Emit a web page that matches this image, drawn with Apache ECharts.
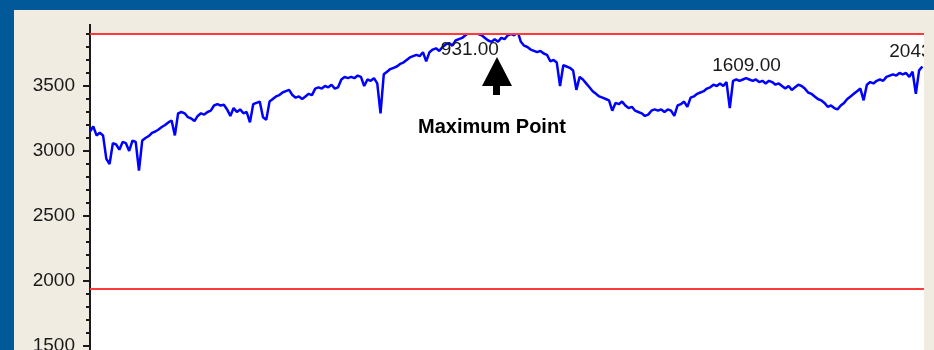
<!DOCTYPE html>
<html>
<head>
<meta charset="utf-8">
<script src="https://cdn.jsdelivr.net/npm/echarts@6/dist/echarts.min.js"></script>
<style>
  html, body { margin: 0; padding: 0; background: #01599a; }
  #chart { width: 934px; height: 350px; }
</style>
</head>
<body>
<div id="chart"></div>
<script>
// Sample index step of the trace (every 8th sample is kept)
const sampleStep = 8;

// Trace values, one per kept sample starting at index 0
const traceValues = [
  3150, 3190, 3120, 3140, 3120, 2940, 2900, 3060, 3050, 3010,
  3070, 3060, 3000, 3080, 3070, 2850, 3080, 3100, 3115, 3140,
  3150, 3165, 3185, 3200, 3220, 3235, 3120, 3290, 3300, 3290,
  3260, 3250, 3230, 3270, 3290, 3280, 3300, 3310, 3350, 3360,
  3350, 3355, 3320, 3270, 3330, 3300, 3320, 3290, 3300, 3220,
  3360, 3370, 3380, 3260, 3240, 3380, 3400, 3420, 3430, 3450,
  3460, 3470, 3430, 3410, 3420, 3400, 3420, 3440, 3430, 3480,
  3490, 3480, 3500, 3490, 3510, 3480, 3490, 3550, 3570, 3560,
  3570, 3560, 3580, 3570, 3500, 3550, 3540, 3560, 3520, 3290,
  3590, 3610, 3630, 3640, 3650, 3670, 3680, 3700, 3720, 3730,
  3740, 3730, 3760, 3690, 3760, 3780, 3790, 3770, 3800, 3820,
  3830, 3810, 3850, 3860, 3870, 3890, 3910, 3930, 3910, 3900,
  3890, 3870, 3850, 3840, 3860, 3840, 3870, 3860, 3890, 3900,
  3890, 3920, 3840, 3810, 3800, 3780, 3770, 3760, 3770, 3750,
  3740, 3690, 3700, 3680, 3500, 3660, 3650, 3640, 3620, 3470,
  3570, 3550, 3520, 3490, 3460, 3440, 3420, 3410, 3400, 3390,
  3310, 3370, 3360, 3380, 3350, 3330, 3340, 3310, 3300, 3290,
  3270, 3280, 3310, 3320, 3310, 3320, 3300, 3320, 3310, 3270,
  3350, 3360, 3380, 3340, 3410, 3420, 3440, 3450, 3460, 3480,
  3490, 3510, 3500, 3520, 3500, 3530, 3330, 3540, 3550, 3540,
  3550, 3560, 3550, 3540, 3550, 3530, 3540, 3520, 3540, 3530,
  3510, 3520, 3500, 3480, 3500, 3470, 3490, 3510, 3500, 3480,
  3450, 3440, 3420, 3400, 3390, 3370, 3340, 3350, 3330, 3320,
  3350, 3370, 3400, 3420, 3440, 3460, 3480, 3390, 3510, 3530,
  3520, 3540, 3550, 3540, 3570, 3580, 3590, 3580, 3600, 3590,
  3600, 3570, 3610, 3440, 3620, 3650
];

// Marked sample indices and their values
const peakIndex = [931, 1609, 2043];
const peakValue = [3930, 3560, 3650];

// Horizontal limit lines
const upperLimit = 3900;
const lowerLimit = 1940;

// Y axis range and tick spacing
const yMin = 1000;
const yMax = 4000;
const yStep = 500;
const xMax = 2044;

const tracePoints = traceValues.map((v, i) => [i * sampleStep, v]);
const peakPoints = peakIndex.map((x, i) => [x, peakValue[i]]);

// label placement per marked point
const peakLabelPlacement = [
  { position: 'bottom', distance: 10 },
  { position: 'top', distance: 3 },
  { position: 'top', distance: 5 }
];

const chart = echarts.init(document.getElementById('chart'));
const beige = '#f1ece1';
const ink = '#1a1a1a';
const labelFont = 'Liberation Sans, Arial, sans-serif';

chart.setOption({
  animation: false,
  backgroundColor: '#01599a',
  textStyle: { fontFamily: labelFont },
  grid: {
    left: 90, right: 10, top: 21, height: 390,
    outerBoundsMode: 'none',
    containLabel: false,
    show: true, backgroundColor: '#ffffff', borderWidth: 0
  },
  xAxis: {
    type: 'value', min: 0, max: xMax, show: false
  },
  yAxis: {
    type: 'value', min: yMin, max: yMax, interval: yStep,
    axisLine: { show: true, lineStyle: { color: ink, width: 2 } },
    axisTick: { show: true, length: 7, lineStyle: { color: ink, width: 2 } },
    minorTick: { show: true, splitNumber: 5, length: 4, lineStyle: { color: ink, width: 2 } },
    splitLine: { show: false },
    axisLabel: {
      show: true, margin: 15, color: ink, fontSize: 19,
      fontFamily: labelFont,
      showMaxLabel: false,
      formatter: (v) => String(v)
    }
  },
  series: [
    {
      type: 'line',
      data: tracePoints,
      showSymbol: false,
      symbol: 'none',
      lineStyle: { color: '#0000ff', width: 2.5 },
      clip: true,
      z: 3,
      markLine: {
        silent: true,
        symbol: ['none', 'none'],
        label: { show: false },
        lineStyle: { color: '#ff3a3a', width: 2, type: 'solid', opacity: 1 },
        emphasis: { disabled: true },
        data: [{ yAxis: upperLimit }, { yAxis: lowerLimit }]
      }
    },
    {
      type: 'scatter',
      data: peakPoints.map((p, i) => ({
        value: p,
        label: {
          show: true,
          position: peakLabelPlacement[i].position,
          distance: peakLabelPlacement[i].distance
        }
      })),
      symbolSize: 0,
      itemStyle: { opacity: 1 },
      clip: false,
      silent: true,
      z: 5,
      label: {
        show: true,
        color: ink,
        opacity: 1,
        fontSize: 19,
        fontFamily: labelFont,
        formatter: (p) => p.value[0].toFixed(2)
      }
    }
  ],
  graphic: [
    // frame panel behind the plot
    {
      type: 'rect', z: -10, silent: true,
      shape: { x: 14, y: 10, width: 920, height: 340 },
      style: { fill: beige }
    },
    // strip above the plot area
    {
      type: 'rect', z: 100, silent: true,
      shape: { x: 80, y: 10, width: 854, height: 14 },
      style: { fill: beige }
    },
    {
      type: 'rect', z: 100, silent: true,
      shape: { x: 91, y: 24, width: 843, height: 9 },
      style: { fill: beige }
    },
    // strip right of the plot area
    {
      type: 'rect', z: 100, silent: true,
      shape: { x: 924, y: 10, width: 10, height: 340 },
      style: { fill: beige }
    },
    // annotation arrow
    {
      type: 'polygon', z: 110, silent: true,
      shape: {
        points: [[497, 57], [512, 86], [500, 86], [500, 95], [493, 95], [493, 86], [482, 86]]
      },
      style: { fill: '#000000' }
    },
    {
      type: 'text', z: 110, silent: true,
      x: 418, y: 127,
      style: {
        text: 'Maximum Point',
        fill: '#000000',
        font: 'bold 20px "Liberation Sans", Arial, sans-serif',
        verticalAlign: 'middle',
        align: 'left'
      }
    }
  ]
});
</script>
</body>
</html>
